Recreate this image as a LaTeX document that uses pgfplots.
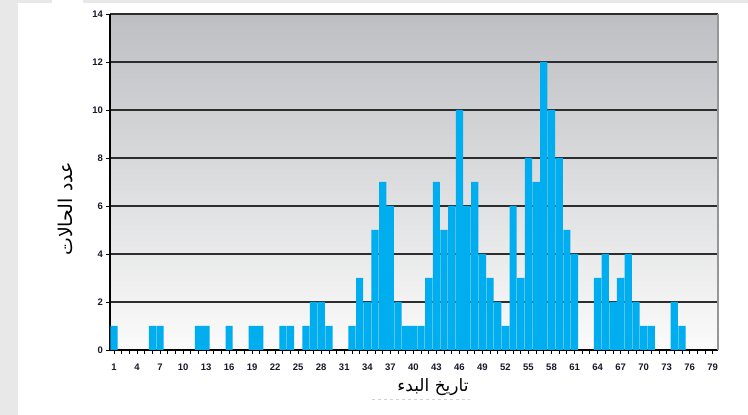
\documentclass[border=0pt]{standalone}
\usepackage{fontspec}
\setmainfont{Liberation Sans}
\newfontfamily\arabicfont[Script=Arabic]{DejaVu Sans}
\TeXXeTstate=1
\usepackage{pgfplots}
\pgfplotsset{compat=1.18}

\definecolor{barblue}{RGB}{0,173,239}
\definecolor{outergrey}{RGB}{232,232,232}
\definecolor{bgtop}{RGB}{190,191,195}
\definecolor{bgbottom}{RGB}{251,251,251}
\definecolor{gridcol}{RGB}{45,45,45}
\definecolor{edgecol}{RGB}{150,150,150}
\definecolor{tickcol}{RGB}{25,25,45}

\begin{document}
\begin{tikzpicture}[x=1pt,y=1pt]
\useasboundingbox (0pt,0pt) rectangle (748pt,415pt);
\fill[outergrey] (0pt,0pt) rectangle (748pt,415pt);
\fill[white] (18pt,0pt) rectangle (748pt,412pt);
\fill[white] (52pt,412pt) rectangle (83pt,415pt);

\begin{axis}[
    at={(110pt,65pt)}, anchor=south west,
    width=608pt, height=336pt, scale only axis,
    xmin=0.48, xmax=79.69,
    ymin=0, ymax=14,
    xtick={1,4,...,79},
    minor xtick={1,...,79},
    ytick={0,2,...,14},
    axis x line*=bottom,
    axis y line*=left,
    x axis line style={-, line width=1.6pt, black},
    y axis line style={-, line width=1.6pt, black},
    tick align=outside,
    major tick length=4pt,
    minor tick length=4pt,
    xtick style={black, line width=0.8pt},
    ytick style={black, line width=0.8pt},
    ymajorgrids=true,
    grid style={gridcol, line width=1.1pt},
    axis background/.style={top color=bgtop, bottom color=bgbottom},
    /pgf/number format/assume math mode=true,
    tick label style={font=\fontsize{9.5}{10}\selectfont\bfseries, text=tickcol},
    xticklabel style={yshift=-6.5pt},
    yticklabel style={xshift=0.5pt},
    clip=false,
]
\addplot[ybar, bar width=0.94, fill=barblue, draw=none] coordinates {
    (1,1)(6,1)(7,1)(12,1)(13,1)(16,1)(19,1)(20,1)(23,1)(24,1)
    (26,1)(27,2)(28,2)(29,1)(32,1)(33,3)(34,2)(35,5)(36,7)(37,6)
    (38,2)(39,1)(40,1)(41,1)(42,3)(43,7)(44,5)(45,6)(46,10)(47,6)
    (48,7)(49,4)(50,3)(51,2)(52,1)(53,6)(54,3)(55,8)(56,7)(57,12)
    (58,10)(59,8)(60,5)(61,4)(64,3)(65,4)(66,2)(67,3)(68,4)(69,2)
    (70,1)(71,1)(74,2)(75,1)
};
\draw[edgecol, line width=1.6pt] (rel axis cs:1,0) -- (rel axis cs:1,1);
\end{axis}

\node[rotate=90, font=\fontsize{19}{19}\selectfont] at (65pt,206pt)
    {\arabicfont\beginR عدد الحالات\endR};
\node[font=\fontsize{17}{17}\selectfont] at (433pt,28pt)
    {\arabicfont\beginR تاريخ البدء\endR};
\draw[gray!35, dashed, line width=0.8pt] (372pt,16pt) -- (470pt,16pt);
\end{tikzpicture}
\end{document}
